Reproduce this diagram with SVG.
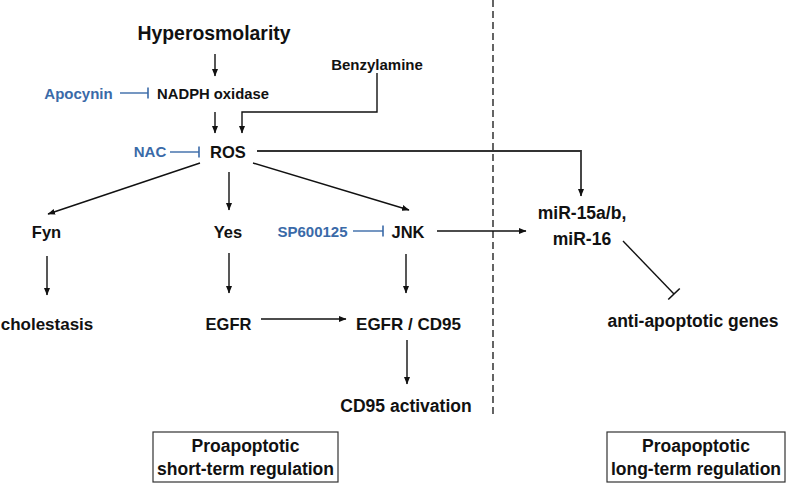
<svg xmlns="http://www.w3.org/2000/svg" width="787" height="484" viewBox="0 0 787 484">
<style>
text{font-family:"Liberation Sans",Arial,sans-serif;font-weight:bold;fill:#111;text-anchor:middle}
.blue{fill:#3a6aa8}
.c{fill:none;stroke:#111;stroke-width:1.4}
.cb{fill:none;stroke:#3a6aa8;stroke-width:1.4}
.box{fill:#fff;stroke:#333;stroke-width:1.2}
</style>
<defs>
<marker id="arr" markerUnits="userSpaceOnUse" markerWidth="8" markerHeight="7" refX="7" refY="3.5" orient="auto" viewBox="0 0 8 7">
<path d="M0,0.5 L7.5,3.5 L0,6.5 z" fill="#111"/>
</marker>
<marker id="teeB" markerUnits="userSpaceOnUse" markerWidth="4" markerHeight="12" refX="2" refY="6" orient="auto" viewBox="0 0 4 12">
<path d="M2,0.5 L2,11.5" stroke="#3a6aa8" stroke-width="1.6"/>
</marker>
<marker id="teeK" markerUnits="userSpaceOnUse" markerWidth="4" markerHeight="18" refX="2" refY="9" orient="auto" viewBox="0 0 4 18">
<path d="M2,1 L2,17" stroke="#111" stroke-width="1.6"/>
</marker>
</defs>

<g id="connectors">
<line class="c" x1="215" y1="54" x2="215" y2="76" marker-end="url(#arr)"/>
<line class="cb" x1="120" y1="93" x2="148" y2="93" marker-end="url(#teeB)"/>
<polyline class="c" points="377,73 377,112 242,112 242,133" marker-end="url(#arr)"/>
<line class="c" x1="215" y1="112" x2="215" y2="133" marker-end="url(#arr)"/>
<line class="cb" x1="170" y1="152" x2="199" y2="152" marker-end="url(#teeB)"/>
<polyline class="c" points="257,151 581,151 581,196" marker-end="url(#arr)" style="stroke:#333;stroke-width:1.8"/>
<line class="c" x1="200" y1="163" x2="48" y2="214" marker-end="url(#arr)"/>
<line class="c" x1="229" y1="172" x2="229" y2="210" marker-end="url(#arr)"/>
<line class="c" x1="253" y1="163" x2="409" y2="210" marker-end="url(#arr)"/>
<line class="cb" x1="353" y1="231" x2="383" y2="231" marker-end="url(#teeB)"/>
<line class="c" x1="437" y1="231" x2="526" y2="231" marker-end="url(#arr)"/>
<line class="c" x1="47" y1="256" x2="47" y2="295" marker-end="url(#arr)"/>
<line class="c" x1="229" y1="253" x2="229" y2="293" marker-end="url(#arr)"/>
<line class="c" x1="406" y1="254" x2="406" y2="293" marker-end="url(#arr)"/>
<line class="c" x1="261" y1="319" x2="346" y2="319" marker-end="url(#arr)"/>
<line class="c" x1="407" y1="340" x2="407" y2="384" marker-end="url(#arr)"/>
<line class="c" x1="623" y1="241" x2="674" y2="294" marker-end="url(#teeK)"/>
<line x1="493" y1="0" x2="493" y2="418" stroke="#111" stroke-width="1.3" stroke-dasharray="7,4"/>
</g>

<g id="hyperosmolarity"><text x="214" y="40" font-size="19.4">Hyperosmolarity</text></g>
<g id="nadph"><text x="213" y="99" font-size="14.8">NADPH oxidase</text></g>
<g id="apocynin"><text class="blue" x="78.5" y="99" font-size="15">Apocynin</text></g>
<g id="benzylamine"><text x="377" y="70" font-size="15">Benzylamine</text></g>
<g id="ros"><text x="228" y="158" font-size="16.5">ROS</text></g>
<g id="nac"><text class="blue" x="150" y="157" font-size="15">NAC</text></g>
<g id="fyn"><text x="46.5" y="238" font-size="16.5">Fyn</text></g>
<g id="yes"><text x="228" y="238" font-size="16.5">Yes</text></g>
<g id="sp600125"><text class="blue" x="312.5" y="237" font-size="15">SP600125</text></g>
<g id="jnk"><text x="408" y="238" font-size="16.5">JNK</text></g>
<g id="mir"><text x="582" y="219" font-size="17.5">miR-15a/b,</text><text x="582" y="245" font-size="17.5">miR-16</text></g>
<g id="cholestasis"><text x="47" y="330" font-size="17">cholestasis</text></g>
<g id="egfr"><text x="228.5" y="330" font-size="16.5">EGFR</text></g>
<g id="egfrcd95"><text x="408.5" y="330" font-size="17">EGFR / CD95</text></g>
<g id="antiapoptotic"><text x="693" y="327" font-size="17.5">anti-apoptotic genes</text></g>
<g id="cd95act"><text x="406" y="412" font-size="17.5">CD95 activation</text></g>
<g id="shortterm"><rect class="box" x="153" y="432" width="185" height="50"/><text x="245.5" y="452" font-size="17.5">Proapoptotic</text><text x="245.5" y="475" font-size="17.5">short-term regulation</text></g>
<g id="longterm"><rect class="box" x="607" y="432" width="178" height="50"/><text x="696" y="452" font-size="17.5">Proapoptotic</text><text x="696" y="475" font-size="17.5">long-term regulation</text></g>
</svg>
